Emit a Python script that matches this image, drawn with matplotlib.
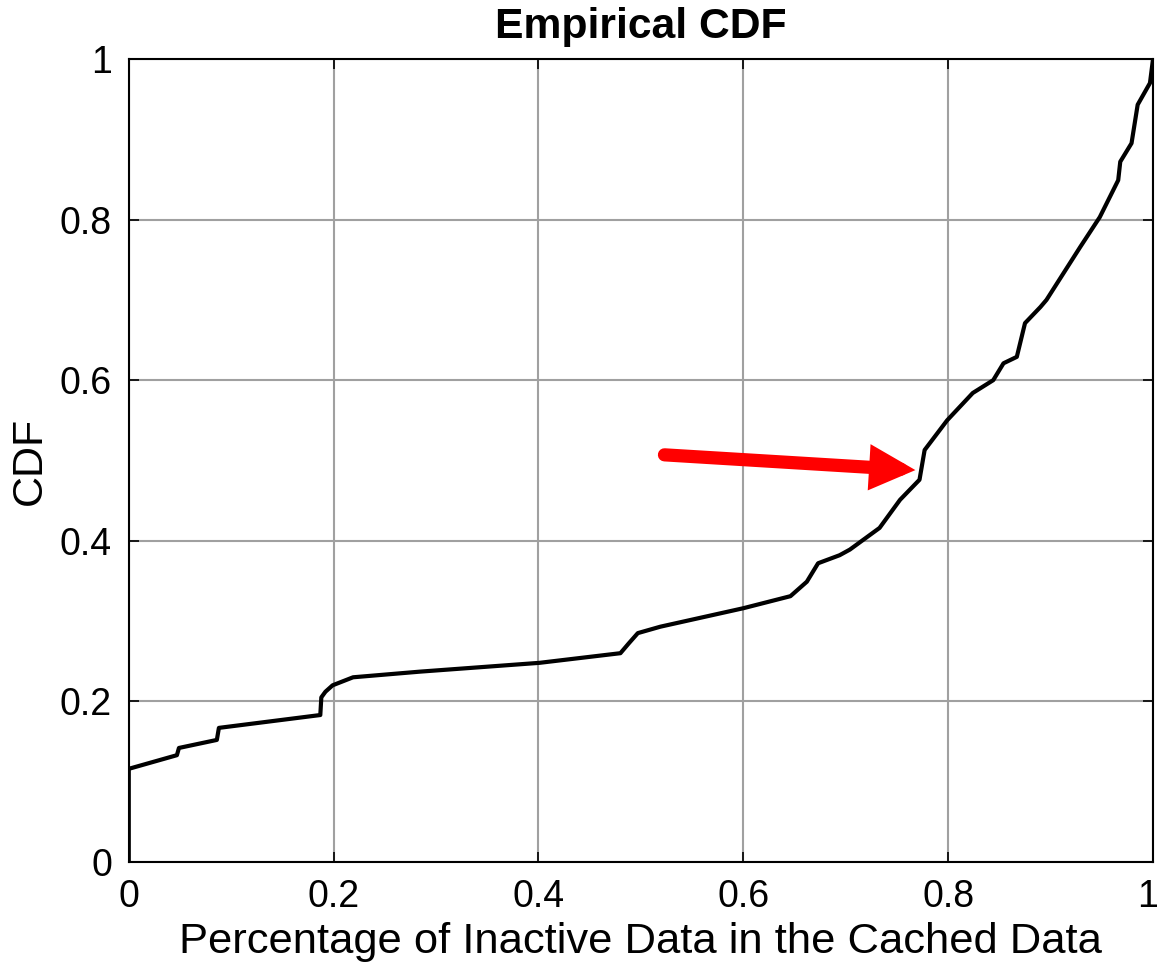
import matplotlib
matplotlib.use("Agg")
import matplotlib.pyplot as plt
import matplotlib.transforms as mtransforms

plt.rcParams['font.family'] = ['Liberation Sans', 'DejaVu Sans']

# inactive share of cached data vs. cumulative fraction
inactive_frac = [0.0, 0.0, 0.047, 0.049, 0.086, 0.088, 0.187, 0.188, 0.192, 0.199,
                 0.219, 0.284, 0.401, 0.480, 0.488, 0.497, 0.519, 0.600, 0.646, 0.662,
                 0.673, 0.694, 0.704, 0.733, 0.753, 0.772, 0.777, 0.799, 0.824, 0.844,
                 0.854, 0.867, 0.875, 0.890, 0.896, 0.929, 0.948, 0.966, 0.968, 0.979,
                 0.985, 0.997, 1.0]
cdf = [0.0, 0.116, 0.133, 0.142, 0.152, 0.167, 0.183, 0.205, 0.212, 0.220,
       0.230, 0.237, 0.248, 0.260, 0.272, 0.285, 0.293, 0.316, 0.331, 0.349,
       0.372, 0.382, 0.389, 0.416, 0.451, 0.476, 0.513, 0.550, 0.584, 0.600,
       0.621, 0.629, 0.671, 0.691, 0.700, 0.766, 0.803, 0.849, 0.872, 0.895,
       0.943, 0.970, 1.0]

ticks = [0, 0.2, 0.4, 0.6, 0.8, 1]
tick_labels = ['0', '0.2', '0.4', '0.6', '0.8', '1']

# arrow pointing at the median region
arrow_from = (0.523, 0.507)
arrow_to = (0.768, 0.488)

fig = plt.figure(figsize=(11.6, 9.74), dpi=100)
ax = fig.add_axes([0.111, 0.115, 0.883, 0.8245])

ax.plot(inactive_frac, cdf, color='black', lw=3, zorder=3)

ax.set_xlim(0, 1)
ax.set_ylim(0, 1)
ax.set_xticks(ticks)
ax.set_xticklabels(tick_labels)
ax.set_yticks(ticks)
ax.set_yticklabels(tick_labels)
ax.grid(True, color='#a0a0a0', lw=1.5)
ax.set_axisbelow(True)
ax.tick_params(direction='in', top=True, right=True, length=7, width=1.2,
               labelsize=27, pad=12)
for s in ax.spines.values():
    s.set_linewidth(1.5)

# keep the last x tick label inside the canvas
last = ax.get_xticklabels()[-1]
last.set_transform(last.get_transform() +
                   mtransforms.ScaledTranslation(-5 / 100, 0, fig.dpi_scale_trans))

ax.set_title('Empirical CDF', fontsize=30.7, fontweight='bold', pad=15)
ax.set_xlabel('Percentage of Inactive Data in the Cached Data', fontsize=31.3, labelpad=5)
ax.set_ylabel('CDF', fontsize=31, labelpad=7)

ax.annotate('', xy=arrow_to, xytext=arrow_from,
            arrowprops=dict(arrowstyle='-|>,head_length=1.8,head_width=0.9',
                            mutation_scale=10, color='red', lw=9.5,
                            capstyle='round', joinstyle='miter',
                            shrinkA=0, shrinkB=0),
            zorder=4)

fig.savefig('out.png', dpi=100)
